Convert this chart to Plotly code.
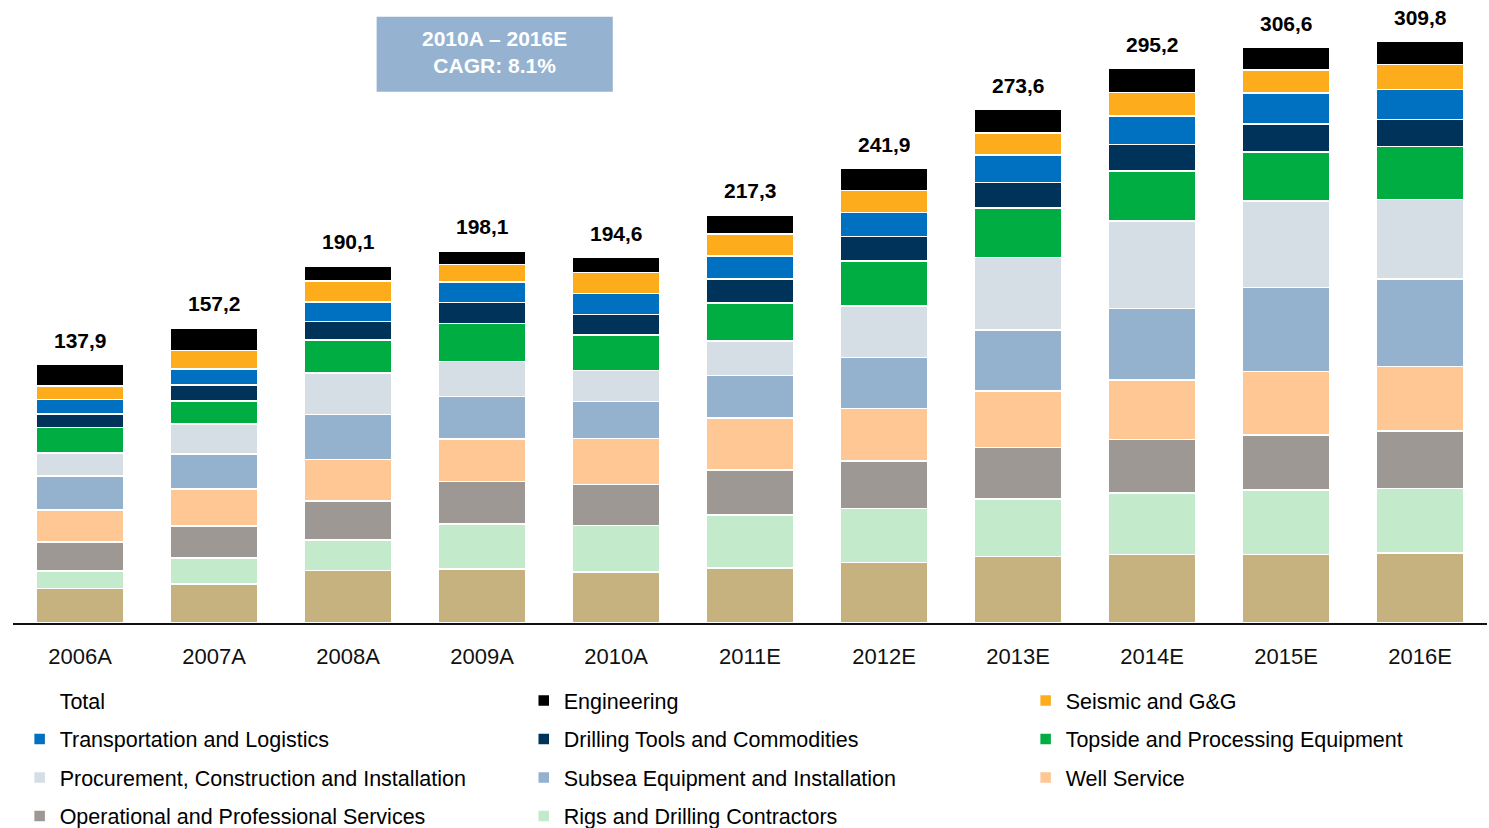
import plotly.graph_objects as go

categories = ["2006A", "2007A", "2008A", "2009A", "2010A", "2011E",
              "2012E", "2013E", "2014E", "2015E", "2016E"]
totals = [137.9, 157.2, 190.1, 198.1, 194.6, 217.3, 241.9, 273.6, 295.2, 306.6, 309.8]

# segments, bottom to top
other = [18.4, 20.9, 28.0, 28.7, 27.2, 29.3, 32.1, 35.3, 36.6, 36.5, 37.4]
rigs = [9.4, 13.6, 16.1, 24.1, 24.6, 28.2, 29.0, 30.7, 32.5, 34.3, 34.1]
operational = [15.3, 17.2, 20.8, 22.6, 22.0, 23.9, 25.1, 27.4, 28.7, 29.3, 30.8]
well_service = [17.2, 19.7, 22.1, 22.7, 24.5, 27.7, 28.1, 30.1, 31.7, 33.8, 34.4]
subsea = [17.9, 18.5, 23.9, 22.6, 19.7, 22.7, 27.0, 32.5, 37.9, 44.8, 46.5]
procurement = [12.3, 16.0, 22.1, 18.6, 16.5, 18.4, 27.5, 38.6, 46.6, 45.9, 42.3]
topside = [13.5, 12.3, 17.7, 20.2, 18.9, 20.2, 24.0, 26.4, 26.7, 26.3, 28.1]
drilling = [7.4, 8.5, 9.8, 11.1, 11.0, 12.9, 12.9, 13.5, 14.1, 14.8, 14.5]
transport = [7.5, 8.5, 10.5, 11.0, 11.1, 12.2, 12.9, 14.7, 15.2, 16.5, 15.9]
seismic = [7.4, 9.9, 11.2, 9.2, 11.1, 11.6, 11.6, 11.6, 12.4, 12.3, 13.5]
engineering = [11.6, 12.1, 7.9, 7.3, 8.0, 10.2, 11.7, 12.8, 12.8, 12.1, 12.3]

cagr_text = "2010A – 2016E<br>CAGR: 8.1%"

FONT = "Liberation Sans, Arial, sans-serif"

# name, values, color, legend id, legend rank (None = hidden)
series = [
    ("Other", other, "#C6B27F", "legend", None),
    ("Rigs and Drilling Contractors", rigs, "#C3EACB", "legend2", 11),
    ("Operational and Professional Services", operational, "#9E9894", "legend", 10),
    ("Well Service", well_service, "#FEC794", "legend3", 9),
    ("Subsea Equipment and Installation", subsea, "#94B1CE", "legend2", 8),
    ("Procurement, Construction and Installation", procurement, "#D4DEE4", "legend", 7),
    ("Topside and Processing Equipment", topside, "#00AD43", "legend3", 6),
    ("Drilling Tools and Commodities", drilling, "#003359", "legend2", 5),
    ("Transportation and Logistics", transport, "#0070C0", "legend", 4),
    ("Seismic and G&G", seismic, "#FDAD1C", "legend3", 3),
    ("Engineering", engineering, "#000000", "legend2", 2),
]

fig = go.Figure()
for name, vals, color, leg, rank in series:
    fig.add_trace(go.Bar(
        x=categories, y=vals, name=name,
        marker=dict(color=color, line=dict(color="white", width=1.5)),
        legend=leg, legendgroup=name,
        legendrank=rank if rank else 1000,
        showlegend=rank is not None,
        hoverinfo="x+y+name",
    ))

fig.add_trace(go.Scatter(
    x=categories, y=totals, name="Total", mode="markers",
    marker=dict(color="rgba(0,0,0,0)", size=1),
    legend="legend", legendgroup="Total", legendrank=1, hoverinfo="skip",
))

for c, t in zip(categories, totals):
    fig.add_annotation(
        x=c, y=t, text=f"{t:.1f}".replace(".", ","), showarrow=False,
        yanchor="middle", yshift=24,
        font=dict(family=FONT, size=21, color="black", weight="bold"),
    )

# CAGR box
fig.add_shape(type="rect", xref="paper", yref="paper",
              x0=0.2467, x1=0.4069, y0=0.8667, y1=0.9891,
              fillcolor="#95B3D0", line=dict(width=0), layer="above")
fig.add_annotation(xref="paper", yref="paper", x=0.3268, y=0.931,
                   text=cagr_text, showarrow=False, xanchor="center", yanchor="middle",
                   font=dict(family=FONT, size=21, color="white", weight="bold"))

leg_common = dict(orientation="v", xanchor="left", yanchor="top", y=-0.0931,
                  font=dict(family=FONT, size=21.5, color="black"),
                  bgcolor="rgba(0,0,0,0)", traceorder="grouped", tracegroupgap=7.5,
                  borderwidth=0)

fig.update_layout(
    width=1489, height=828,
    margin=dict(l=13, r=2, t=10, b=205, autoexpand=False),
    paper_bgcolor="white", plot_bgcolor="white",
    barmode="stack", bargap=0.35,
    font=dict(family=FONT, color="black"),
    xaxis=dict(range=[-0.5, 10.5], showline=True, linecolor="#111111", linewidth=2,
               ticks="", tickfont=dict(family=FONT, size=22, color="#111111"),
               ticklabelstandoff=13, showgrid=False, zeroline=False, fixedrange=True),
    yaxis=dict(range=[0, 326.4], visible=False, showgrid=False, zeroline=False),
    legend=dict(x=0.0045, **leg_common),
    legend2=dict(x=0.3465, **leg_common),
    legend3=dict(x=0.6870, **leg_common),
)

fig.write_html("out.html")
